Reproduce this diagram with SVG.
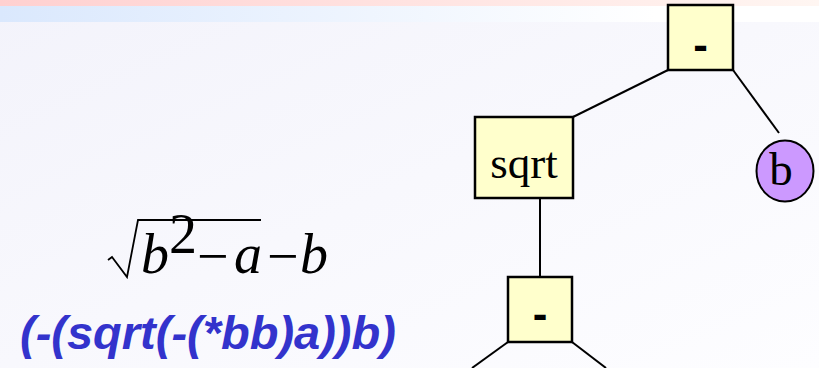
<svg xmlns="http://www.w3.org/2000/svg" width="819" height="368" viewBox="0 0 819 368">
  <defs>
    <linearGradient id="bg" x1="0" y1="0" x2="1" y2="1">
      <stop offset="0" stop-color="#f3f3fb"/>
      <stop offset="1" stop-color="#fdfdff"/>
    </linearGradient>
    <linearGradient id="pink" x1="0" y1="0" x2="1" y2="0">
      <stop offset="0" stop-color="#ffd0d0"/>
      <stop offset="1" stop-color="#fff6f2"/>
    </linearGradient>
    <linearGradient id="blue" x1="0" y1="0" x2="1" y2="0">
      <stop offset="0" stop-color="#dae8fd"/>
      <stop offset="0.8" stop-color="#ffffff"/>
    </linearGradient>
    <style>
      .box { fill: #ffffcc; stroke: #000; stroke-width: 2.5; }
      .leaf { fill: #cc99ff; stroke: #000; stroke-width: 2; }
      .edge { stroke: #000; stroke-width: 2; fill: none; }
      .op { font-family: "Liberation Sans", Arial, sans-serif; font-weight: bold; font-size: 44px; text-anchor: middle; }
      .lbl { font-family: "Liberation Serif", "Times New Roman", serif; text-anchor: middle; }
      .math { font-family: "Liberation Serif", "Times New Roman", serif; font-size: 56px; }
    </style>
  </defs>
  <rect x="0" y="0" width="819" height="368" fill="url(#bg)"/>
  <rect x="0" y="0" width="819" height="6" fill="url(#pink)"/>
  <rect x="0" y="6" width="819" height="16" fill="url(#blue)"/>

  <g id="connectors">
    <line class="edge" x1="668" y1="70" x2="573" y2="117"/>
    <line class="edge" x1="733" y1="70" x2="779" y2="133"/>
    <line class="edge" x1="540" y1="198" x2="540" y2="277"/>
    <line class="edge" x1="508" y1="342" x2="472" y2="368"/>
    <line class="edge" x1="572" y1="342" x2="606" y2="368"/>
  </g>

  <g id="node-minus-top">
    <rect class="box" x="668" y="5" width="65" height="65"/>
    <text class="op" x="700.5" y="60">-</text>
  </g>
  <g id="node-sqrt">
    <rect class="box" x="475" y="117" width="98" height="81"/>
    <text class="lbl" x="524" y="178" font-size="45">sqrt</text>
  </g>
  <g id="node-b">
    <ellipse class="leaf" cx="785" cy="171" rx="28.5" ry="30.5"/>
    <text class="lbl" x="781" y="185" font-size="47">b</text>
  </g>
  <g id="node-minus-bottom">
    <rect class="box" x="508" y="277" width="64" height="65"/>
    <text class="op" x="540" y="329">-</text>
  </g>

  <g id="formula">
    <path d="M108,260 L112,257 L127,277 L138,220 L261,220" fill="none" stroke="#000" stroke-width="1.8"/>
    <text class="math" x="141" y="273" font-style="italic">b</text>
    <text class="math" x="169" y="253" font-size="32">2</text>
    <text class="math" x="197" y="275">−</text>
    <text class="math" x="234" y="273" font-style="italic">a</text>
    <text class="math" x="267" y="275">−</text>
    <text class="math" x="300" y="273" font-style="italic">b</text>
  </g>

  <text x="20" y="349" font-family="'Liberation Sans', Arial, sans-serif" font-weight="bold" font-style="italic" font-size="47" fill="#3333cc">(-(sqrt(-(*bb)a))b)</text>
</svg>
